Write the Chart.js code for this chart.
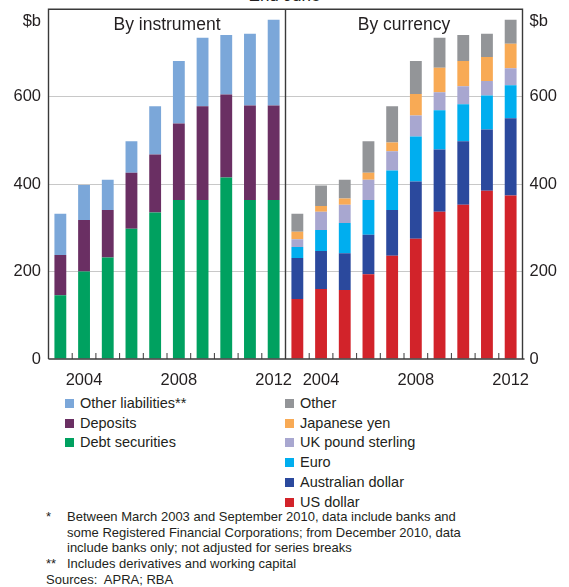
<!DOCTYPE html>
<html lang="en">

<head>
  <meta charset="UTF-8">
  <title>Banks' foreign liabilities</title>
  <script src="https://cdn.jsdelivr.net/npm/chart.js"></script>
  <style>
    body {
      margin: 0;
      background: #fff;
      font-family: Arial, "Liberation Sans", sans-serif;
      color: #231f20;
      width: 569px;
      height: 587px;
      position: relative;
      overflow: hidden;
    }

    #top {
      position: absolute;
      left: 0;
      top: -13px;
      width: 569px;
      text-align: center;
      font-size: 17px;
      line-height: 17px;
    }

    #wrap {
      position: absolute;
      left: 0;
      top: 0;
      width: 569px;
      height: 390px;
    }

    .leg {
      position: absolute;
      top: 394px;
      font-size: 14.5px;
      line-height: 19.7px;
    }

    .leg div {
      position: relative;
      padding-left: 15px;
      white-space: nowrap;
    }

    .leg span {
      position: absolute;
      left: 0;
      top: 5px;
      width: 9px;
      height: 9px;
    }

    #notes {
      position: absolute;
      left: 46px;
      top: 509px;
      font-size: 13px;
      line-height: 15.7px;
    }

    #notes div {
      position: relative;
      padding-left: 21px;
    }

    #notes b {
      font-weight: normal;
      position: absolute;
      left: 0;
    }
  </style>
</head>

<body>
  <div id="top">End June</div>
  <div id="wrap"><canvas id="c" width="569" height="390"></canvas></div>
  <div class="leg" id="legL" style="left:65px"></div>
  <div class="leg" id="legR" style="left:285px"></div>
  <div id="notes">
    <div><b>*</b>Between March 2003 and September 2010, data include banks and<br>some Registered Financial Corporations; from December 2010, data<br>include banks only; not adjusted for series breaks</div>
    <div><b>**</b>Includes derivatives and working capital</div>
    <div style="padding-left:0">Sources:&nbsp; APRA; RBA</div>
  </div>

  <script>
    const years = ['2003', '2004', '2005', '2006', '2007', '2008', '2009', '2010', '2011', '2012'];
    const shownYears = ['2004', '2008', '2012'];

    // by instrument, $b
    const debtSec = [146, 200, 232, 298, 335, 364, 364, 415, 364, 364];
    const deposits = [92, 118, 109, 128, 133, 175, 214, 190, 216, 216];
    const otherLiab = [94, 80, 69, 72, 110, 143, 157, 136, 164, 196];

    // by currency, $b
    const usd = [137, 160, 158, 194, 236, 275, 337, 353, 385, 374];
    const aud = [94, 87, 84, 90, 105, 131, 142, 145, 140, 177];
    const eur = [25, 48, 69, 80, 90, 103, 90, 85, 78, 75];
    const gbp = [18, 42, 42, 46, 44, 48, 41, 41, 33, 39];
    const jpy = [17, 13, 14, 16, 20, 49, 56, 58, 55, 56];
    const otherCur = [41, 47, 43, 72, 83, 76, 69, 59, 53, 55];

    const yTicks = [0, 200, 400, 600, 800];

    const none = years.map(() => null);
    const L = a => a.concat(none);
    const R = a => none.concat(a);

    const leftSets = [
      { label: 'Debt securities', data: L(debtSec), color: '#00a160' },
      { label: 'Deposits', data: L(deposits), color: '#6a2f63' },
      { label: 'Other liabilities**', data: L(otherLiab), color: '#7ba7d9' }
    ];
    const rightSets = [
      { label: 'US dollar', data: R(usd), color: '#d2232a' },
      { label: 'Australian dollar', data: R(aud), color: '#2b499d' },
      { label: 'Euro', data: R(eur), color: '#00aeef' },
      { label: 'UK pound sterling', data: R(gbp), color: '#a8a7d0' },
      { label: 'Japanese yen', data: R(jpy), color: '#f8aa55' },
      { label: 'Other', data: R(otherCur), color: '#939598' }
    ];

    function legend(id, sets) {
      const el = document.getElementById(id);
      sets.slice().reverse().forEach(s => {
        const d = document.createElement('div');
        d.innerHTML = '<span style="background:' + s.color + '"></span>' + s.label;
        el.appendChild(d);
      });
    }
    legend('legL', leftSets);
    legend('legR', rightSets);

    const ink = '#3a3a3a';
    const fnt = { family: 'Arial, "Liberation Sans", sans-serif', size: 16.5 };

    const frame = {
      id: 'frame',
      afterDatasetsDraw(ch) {
        const a = ch.chartArea;
        const x = ch.scales.x;
        const c = ch.ctx;
        const mid = (x.getPixelForValue(9) + x.getPixelForValue(10)) / 2;
        c.save();
        c.strokeStyle = ink;
        c.lineWidth = 1.4;
        c.beginPath();
        c.moveTo(a.left, a.bottom);
        c.lineTo(a.left, a.top);
        c.lineTo(a.right, a.top);
        c.lineTo(a.right, a.bottom);
        c.moveTo(a.left, a.bottom);
        c.lineTo(a.right + 2, a.bottom);
        c.moveTo(mid, a.top);
        c.lineTo(mid, a.bottom);
        c.stroke();
        c.lineWidth = 1;
        c.beginPath();
        for (let i = 1; i < 20; i++) {
          if (i === 10) continue;
          const t = (x.getPixelForValue(i - 1) + x.getPixelForValue(i)) / 2;
          c.moveTo(t, a.bottom);
          c.lineTo(t, a.bottom - 6);
        }
        c.stroke();
        c.fillStyle = '#231f20';
        c.font = '16.5px Arial, "Liberation Sans", sans-serif';
        c.textBaseline = 'middle';
        c.textAlign = 'right';
        c.fillText('$b', a.left - 7.5, a.top + 12);
        c.textAlign = 'left';
        c.fillText('$b', a.right + 7, a.top + 12);
        c.font = '17.5px Arial, "Liberation Sans", sans-serif';
        c.textAlign = 'center';
        c.fillText('By instrument', (a.left + mid) / 2, a.top + 16);
        c.fillText('By currency', (mid + a.right) / 2, a.top + 16);
        c.restore();
      }
    };

    const yBase = {
      min: 0,
      max: 800,
      stacked: true,
      border: { display: false },
      afterBuildTicks: s => { s.ticks = yTicks.map(v => ({ value: v })); },
      ticks: {
        color: '#231f20',
        font: fnt,
        callback: v => v === 800 ? '' : v
      }
    };

    new Chart(document.getElementById('c'), {
      type: 'bar',
      data: {
        labels: years.concat(years),
        datasets: leftSets.concat(rightSets).map(s => ({
          label: s.label,
          data: s.data,
          backgroundColor: s.color,
          borderWidth: 0,
          categoryPercentage: 1,
          barPercentage: 0.5,
          yAxisID: 'y'
        }))
      },
      options: {
        responsive: false,
        animation: false,
        layout: { padding: { top: 9.3, left: 0, right: 0, bottom: 0 } },
        plugins: { legend: { display: false }, tooltip: { enabled: false } },
        scales: {
          x: {
            stacked: true,
            border: { display: false },
            grid: { display: false },
            afterFit: s => { s.height = 31; s.paddingLeft = 0; s.paddingRight = 0; },
            ticks: {
              color: '#231f20',
              font: fnt,
              padding: 4,
              autoSkip: false,
              maxRotation: 0,
              callback: function (v) {
                const y = this.getLabelForValue(v);
                return shownYears.includes(y) ? y : '';
              }
            }
          },
          y: Object.assign({}, yBase, {
            position: 'left',
            afterFit: s => { s.width = 48.5; s.paddingTop = 0; s.paddingBottom = 0; },
            grid: {
              drawTicks: false,
              color: c => (c.tick && (c.tick.value === 0 || c.tick.value === 800)) ? 'rgba(0,0,0,0)' : '#c8c8c8'
            },
            ticks: Object.assign({}, yBase.ticks, { padding: 7.5 })
          }),
          y2: Object.assign({}, yBase, {
            position: 'right',
            afterFit: s => { s.width = 46.5; s.paddingTop = 0; s.paddingBottom = 0; },
            grid: { display: false, drawTicks: false },
            ticks: Object.assign({}, yBase.ticks, { padding: 7 })
          })
        }
      },
      plugins: [frame]
    });
  </script>
</body>

</html>
